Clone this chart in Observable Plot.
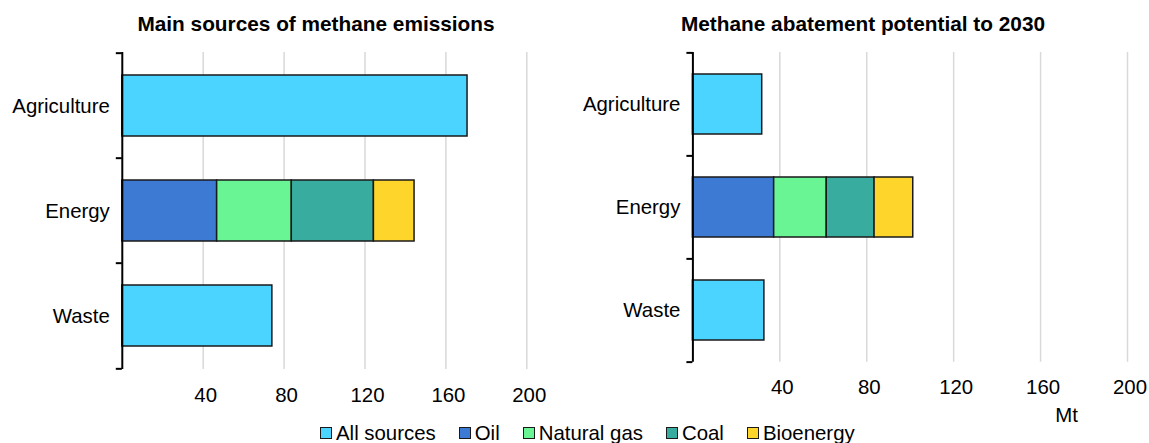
<!DOCTYPE html>
<html>
<head>
<meta charset="utf-8">
<script src="https://cdn.jsdelivr.net/npm/d3@7"></script>
<script src="https://cdn.jsdelivr.net/npm/@observablehq/plot@0.6"></script>
<style>
  html, body { margin: 0; padding: 0; background: #fff; }
  #chart { position: relative; width: 1149px; height: 443px; overflow: hidden; font-family: "Liberation Sans", Arial, sans-serif; color: #000; }
  .panel { position: absolute; top: 0; }
  .title { position: absolute; width: 480px; text-align: center; font-weight: bold; font-size: 20.8px; line-height: 20.8px; white-space: nowrap; }
  #legend { position: absolute; left: 320px; top: 422.7px; display: flex; align-items: center; gap: 23px; font-size: 20.4px; line-height: 20.4px; white-space: nowrap; }
  .item { display: flex; align-items: center; gap: 4px; }
  .sw { width: 10px; height: 10px; border: 1px solid #1a1a1a; display: inline-block; }
</style>
</head>
<body>
<div id="chart"></div>
<script>
// ---------- data ----------
const sectors = ["Agriculture", "Energy", "Waste"];
const sources = ["All sources", "Oil", "Natural gas", "Coal", "Bioenergy"];
const sourceColors = ["#4bd4ff", "#3d7ad3", "#6af594", "#38ad9f", "#fed52a"];
const xTicks = [40, 80, 120, 160, 200];

// sectors shown as one bar
const otherSectors = ["Agriculture", "Waste"];
// energy split by source
const energySources = ["Oil", "Natural gas", "Coal", "Bioenergy"];

// Main sources of methane emissions (Mt)
const emissionsOther = [170.7, 74.2];
const emissionsEnergy = [46.9, 36.9, 40.6, 20.1];

// Methane abatement potential to 2030 (Mt)
const abatementOther = [31.9, 32.9];
const abatementEnergy = [37.4, 24.2, 22.0, 17.8];

const panelTitles = ["Main sources of methane emissions", "Methane abatement potential to 2030"];
const unitLabel = "Mt";

// ---------- helpers ----------
function rows(otherVals, energyVals) {
  return [
    ...otherSectors.map((s, i) => ({sector: s, source: "All sources", value: otherVals[i]})),
    ...energySources.map((src, i) => ({sector: "Energy", source: src, value: energyVals[i]}))
  ];
}

const FONT = "'Liberation Sans', Arial, sans-serif";

function panel({data, width, height, marginLeft, marginRight, marginTop, marginBottom, extra = []}) {
  const step = (height - marginTop - marginBottom) / sectors.length;
  return Plot.plot({
    width, height, marginLeft, marginRight, marginTop, marginBottom,
    style: {fontFamily: FONT, fontSize: "20.4px", color: "#000", background: "transparent", overflow: "visible"},
    x: {domain: [0, 200]},
    y: {domain: sectors, paddingInner: 0.42, paddingOuter: 0.21},
    color: {domain: sources, range: sourceColors},
    marks: [
      Plot.gridX({ticks: xTicks, stroke: "#d9d9d9", strokeOpacity: 1, strokeWidth: 1.5}),
      Plot.barX(data, Plot.stackX({y: "sector", x: "value", fill: "source", stroke: "#1a1a1a", strokeWidth: 1.5})),
      Plot.ruleX([0], {stroke: "#000", strokeWidth: 2}),
      Plot.axisX({ticks: xTicks, tickSize: 0, tickPadding: 17.7, dx: 2.5, label: null, fill: "#000"}),
      Plot.axisY({tickSize: 0, tickPadding: 12.5, label: null, fill: "#000"}),
      Plot.axisY({tickSize: 6, tickFormat: () => "", label: null, dy: -step / 2, strokeWidth: 2, stroke: "#000"}),
      Plot.axisY({ticks: [sectors[sectors.length - 1]], tickSize: 6, tickFormat: () => "", label: null, dy: step / 2, strokeWidth: 2, stroke: "#000"}),
      ...extra
    ]
  });
}

const chart = document.getElementById("chart");

// left panel
const left = panel({
  data: rows(emissionsOther, emissionsEnergy),
  width: 575, height: 410,
  marginLeft: 121.8, marginRight: 48.7, marginTop: 52, marginBottom: 41
});
left.classList.add("panel");
left.style.left = "0px";
chart.appendChild(left);

// right panel
const right = panel({
  data: rows(abatementOther, abatementEnergy),
  width: 574, height: 443,
  marginLeft: 117.4, marginRight: 22, marginTop: 52, marginBottom: 81.3,
  extra: [
    Plot.text([unitLabel], {text: d => d, frameAnchor: "bottom-right", dx: -61, dy: 45.6, lineAnchor: "top", textAnchor: "middle", fill: "#000"})
  ]
});
right.classList.add("panel");
right.style.left = "575px";
chart.appendChild(right);

// titles
const titleCenters = [316, 863];
panelTitles.forEach((t, i) => {
  const d = document.createElement("div");
  d.className = "title";
  d.textContent = t;
  d.style.left = (titleCenters[i] - 240) + "px";
  d.style.top = "14.4px";
  chart.appendChild(d);
});

// legend
const legend = document.createElement("div");
legend.id = "legend";
sources.forEach((s, i) => {
  const item = document.createElement("div");
  item.className = "item";
  const sw = document.createElement("span");
  sw.className = "sw";
  sw.style.background = sourceColors[i];
  const lab = document.createElement("span");
  lab.textContent = s;
  item.appendChild(sw);
  item.appendChild(lab);
  legend.appendChild(item);
});
chart.appendChild(legend);
</script>
</body>
</html>
